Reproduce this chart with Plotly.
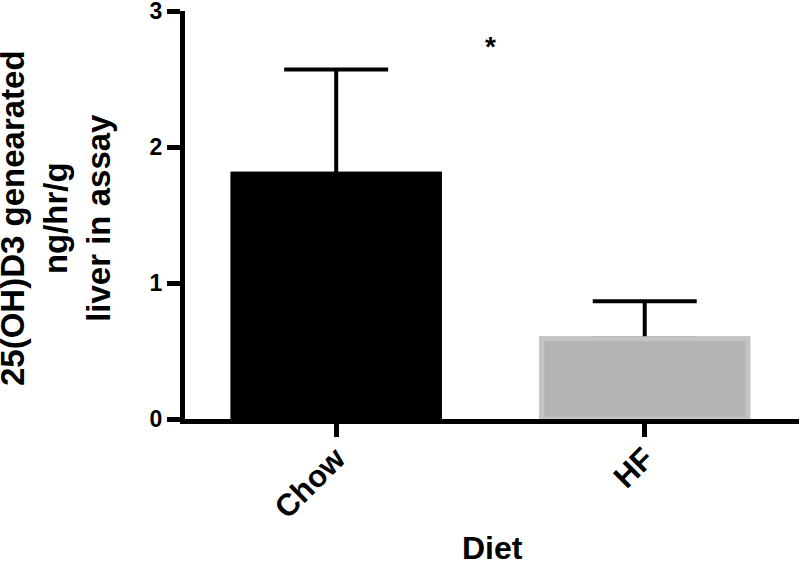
import plotly.graph_objects as go

categories = ["Chow", "HF"]
means = [1.80, 0.59]
sem = [0.77, 0.275]
bar_fill = ["#000000", "#b3b3b3"]
bar_edge = ["#000000", "#c3c3c3"]
y_ticks = [0, 1, 2, 3]
y_title = "25(OH)D3 genearated<br>ng/hr/g<br>liver in assay"
x_title = "Diet"
sig_mark = "*"

FONT = "Arial, Liberation Sans, sans-serif"

fig = go.Figure()
# bars carrying the (upper-only) error bars
fig.add_trace(go.Bar(
    x=categories, y=means,
    marker=dict(color=bar_fill, line=dict(color=bar_edge, width=5)),
    error_y=dict(type="data", array=sem, arrayminus=[0, 0], symmetric=False,
                 color="#000000", thickness=4, width=52),
    width=0.668, showlegend=False, hoverinfo="skip",
))
# identical bars on top, hiding the lower cap of the error bars
fig.add_trace(go.Bar(
    x=categories, y=means,
    marker=dict(color=bar_fill, line=dict(color=bar_edge, width=5)),
    width=0.668, showlegend=False,
))

fig.update_layout(
    width=800, height=564,
    barmode="overlay",
    margin=dict(l=185, r=1, t=11, b=144.5),
    paper_bgcolor="white", plot_bgcolor="white",
    font=dict(family=FONT, color="black"),
    xaxis=dict(
        type="category", range=[-0.49, 1.5], automargin=False,
        showline=True, linecolor="black", linewidth=5,
        ticks="outside", ticklen=13, tickwidth=5, tickcolor="black",
        tickangle=-45, tickfont=dict(size=31, family=FONT, weight="bold"),
        ticklabelstandoff=-9,
        showgrid=False, zeroline=False,
    ),
    yaxis=dict(
        range=[0, 3], tickvals=y_ticks, automargin=False,
        ticklabeloverflow="allow",
        showline=True, linecolor="black", linewidth=5,
        ticks="outside", ticklen=13, tickwidth=5, tickcolor="black",
        tickfont=dict(size=23, family=FONT, weight="bold"),
        showgrid=False, zeroline=False,
    ),
    annotations=[
        dict(text=y_title, xref="paper", yref="paper", x=0, y=0.5,
             xanchor="center", yanchor="middle", xshift=-130, yshift=-3,
             textangle=-90, showarrow=False, align="center",
             font=dict(size=33, family=FONT, weight="bold")),
        dict(text=x_title, xref="paper", yref="paper", x=0.5, y=0,
             xanchor="center", yanchor="middle", yshift=-129, showarrow=False,
             font=dict(size=32, family=FONT, weight="bold")),
        dict(text=sig_mark, xref="x", yref="y", x=0.5, y=2.74,
             xanchor="center", yanchor="middle", showarrow=False,
             font=dict(size=28, family=FONT, weight="bold")),
    ],
)

fig.write_html("out.html", config={"displayModeBar": False},
               post_script="document.body.style.margin='0';")
